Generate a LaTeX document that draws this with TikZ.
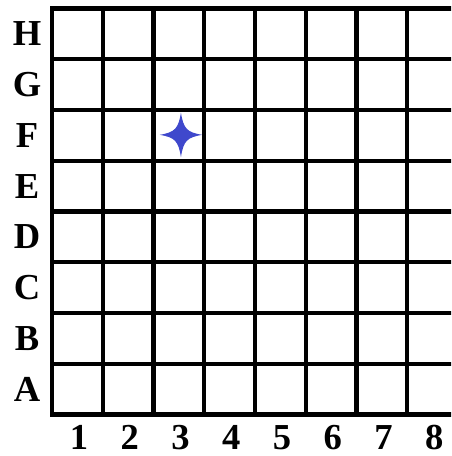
\documentclass[tikz,border=0pt]{standalone}
\usepackage{fontspec}
\setmainfont{Liberation Serif}
\definecolor{starblue}{HTML}{3F48CC}
\begin{document}
\begin{tikzpicture}[x=1cm,y=1cm,
  lbl/.style={font=\fontsize{20.5}{24}\selectfont\bfseries, inner sep=0pt}]
  \useasboundingbox (-1.025,-0.818) rectangle (7.862,8.167);
  \clip (-1.025,-0.818) rectangle (7.862,8.167);
  \draw[line width=2.35pt, line cap=rect] (0,0) grid (8,8);
  \foreach \r [count=\i from 0] in {A,B,C,D,E,F,G,H}
    \node[lbl] (row\r) at (-0.49,\i+0.5) {\r};
  \foreach \c in {1,...,8}
    \node[lbl] (col\c) at (\c-0.47,-0.45) {\c};
  % star in F3
  \fill[starblue, shift={(2.54,5.51)}] (0,0.44) .. controls (0.05,0.12) and (0.12,0.05) .. (0.42,0)
    .. controls (0.12,-0.05) and (0.05,-0.12) .. (0,-0.44)
    .. controls (-0.05,-0.12) and (-0.12,-0.05) .. (-0.42,0)
    .. controls (-0.12,0.05) and (-0.05,0.12) .. cycle;
\end{tikzpicture}
\end{document}
